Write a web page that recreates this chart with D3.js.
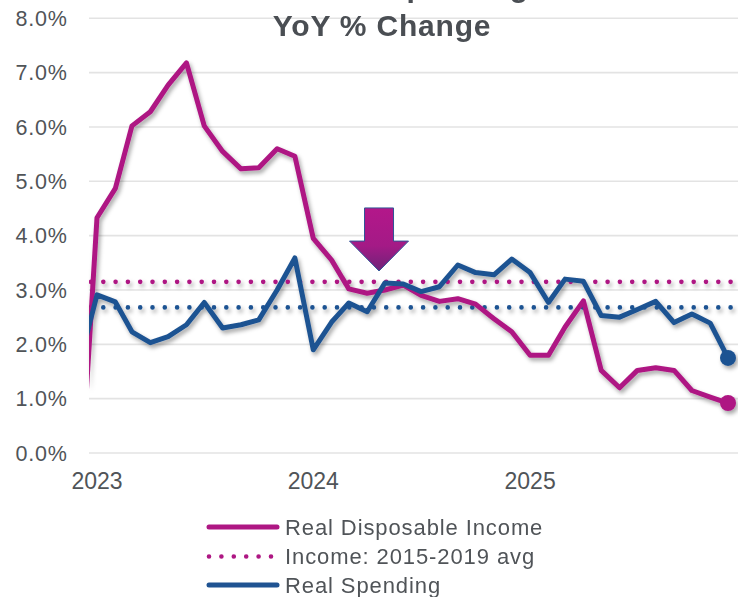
<!DOCTYPE html>
<html>
<head>
<meta charset="utf-8">
<script src="https://cdn.jsdelivr.net/npm/d3@7"></script>
<style>
  html, body { margin: 0; padding: 0; background: #ffffff; overflow: hidden; }
  svg { display: block; font-family: "Liberation Sans", Arial, sans-serif; }
</style>
</head>
<body>
<svg id="chart" width="738" height="597"></svg>
<script>
// Monthly observations, Dec 2022 through Dec 2025
const months = [
  "2022-12",
  "2023-01","2023-02","2023-03","2023-04","2023-05","2023-06",
  "2023-07","2023-08","2023-09","2023-10","2023-11","2023-12",
  "2024-01","2024-02","2024-03","2024-04","2024-05","2024-06",
  "2024-07","2024-08","2024-09","2024-10","2024-11","2024-12",
  "2025-01","2025-02","2025-03","2025-04","2025-05","2025-06",
  "2025-07","2025-08","2025-09","2025-10","2025-11","2025-12"
];

// Real disposable income, YoY %
const incomeYoY = [
  -1.2,
  4.33, 4.87, 6.02, 6.28, 6.77, 7.18, 6.02, 5.55, 5.23, 5.25, 5.60, 5.46,
  3.95, 3.55, 3.02, 2.94, 3.00, 3.09, 2.90, 2.79, 2.84, 2.74, 2.47, 2.23,
  1.80, 1.80, 2.32, 2.80, 1.52, 1.20, 1.52, 1.57, 1.52, 1.15, 1.03, 0.92
];

// Real spending, YoY %
const spendingYoY = [
  1.6,
  2.91, 2.78, 2.23, 2.03, 2.14, 2.36, 2.77, 2.30, 2.36, 2.45, 3.00, 3.59,
  1.90, 2.41, 2.76, 2.60, 3.13, 3.11, 2.97, 3.06, 3.46, 3.32, 3.28, 3.57,
  3.32, 2.77, 3.20, 3.16, 2.53, 2.50, 2.64, 2.79, 2.40, 2.56, 2.39, 1.75
];

// 2015-2019 averages
const incomeAvg = 3.15;
const spendingAvg = 2.68;

const yTicks = [0, 1, 2, 3, 4, 5, 6, 7, 8];
const yearTicks = ["2023-01", "2024-01", "2025-01"];
const yearLabels = ["2023", "2024", "2025"];

const titleLines = ["Income & Spending", "YoY % Change"];
const legendLabels = ["Real Disposable Income", "Income: 2015-2019 avg", "Real Spending"];

// Callout arrow, placed in data space
const arrowAt = "2024-04-21";
const arrowTop = 4.51, arrowNeck = 3.90, arrowTip = 3.35;

const MAGENTA = "#ae1783";
const BLUE = "#1f5392";
const GRID = "#e3e3e3";
const TEXT = "#505458";

const W = 738, H = 597;
const plot = { left: 89, right: 738, top: 18.3, bottom: 453 };

const parse = d3.timeParse("%Y-%m");
const parseDay = d3.timeParse("%Y-%m-%d");
const dates = months.map(parse);

const x = d3.scaleTime()
  .domain([parse("2023-01"), parse("2025-12")])
  .range([97, 728]);
const y = d3.scaleLinear().domain([0, 8]).range([plot.bottom, plot.top]);

const svg = d3.select("#chart");
const defs = svg.append("defs");

defs.append("clipPath").attr("id", "plotClip")
  .append("rect")
  .attr("x", plot.left).attr("y", 0)
  .attr("width", plot.right - plot.left).attr("height", H);

const shadow = defs.append("filter").attr("id", "shadow")
  .attr("x", "-10%").attr("y", "-10%").attr("width", "130%").attr("height", "140%");
shadow.append("feDropShadow")
  .attr("dx", 2).attr("dy", 3).attr("stdDeviation", 2)
  .attr("flood-color", "#000").attr("flood-opacity", 0.35);

const grad = defs.append("linearGradient").attr("id", "arrowFill")
  .attr("x1", 0).attr("y1", 0).attr("x2", 0).attr("y2", 1);
grad.append("stop").attr("offset", "0%").attr("stop-color", "#b3178a");
grad.append("stop").attr("offset", "60%").attr("stop-color", "#a41a86");
grad.append("stop").attr("offset", "100%").attr("stop-color", "#6e2378");

// Horizontal gridlines
svg.append("g")
  .selectAll("line")
  .data(yTicks)
  .join("line")
  .attr("x1", plot.left).attr("x2", plot.right)
  .attr("y1", d => y(d)).attr("y2", d => y(d))
  .attr("stroke", GRID).attr("stroke-width", 1.6);

// Y axis labels
svg.append("g")
  .selectAll("text")
  .data(yTicks)
  .join("text")
  .attr("x", 67.8).attr("y", d => y(d))
  .attr("dy", "0.36em")
  .attr("text-anchor", "end")
  .attr("font-size", 21.5)
  .attr("letter-spacing", 0.8)
  .attr("fill", TEXT)
  .text(d => d3.format(".1f")(d) + "%");

// X axis year labels
svg.append("g")
  .selectAll("text")
  .data(yearTicks)
  .join("text")
  .attr("x", d => x(parse(d)))
  .attr("y", 489)
  .attr("text-anchor", "middle")
  .attr("font-size", 23)
  .attr("fill", TEXT)
  .text((d, i) => yearLabels[i]);

// Series: each mark is clipped to the plot, then the group casts one shadow
const series = svg.append("g").attr("filter", "url(#shadow)");

const avgLine = (v, color) => series.append("line")
  .attr("clip-path", "url(#plotClip)")
  .attr("x1", plot.left + 2).attr("x2", plot.right)
  .attr("y1", y(v)).attr("y2", y(v))
  .attr("stroke", color).attr("stroke-width", 4.6)
  .attr("stroke-linecap", "round")
  .attr("stroke-dasharray", "0 12.3");

avgLine(incomeAvg, MAGENTA);
avgLine(spendingAvg, BLUE);

const line = d3.line().x((d, i) => x(dates[i])).y(d => y(d));

series.append("path")
  .attr("clip-path", "url(#plotClip)")
  .attr("d", line(incomeYoY))
  .attr("fill", "none").attr("stroke", MAGENTA)
  .attr("stroke-width", 5).attr("stroke-linejoin", "round");

series.append("path")
  .attr("clip-path", "url(#plotClip)")
  .attr("d", line(spendingYoY))
  .attr("fill", "none").attr("stroke", BLUE)
  .attr("stroke-width", 5).attr("stroke-linejoin", "round");

// Latest-value markers
const last = dates.length - 1;
series.append("circle")
  .attr("cx", x(dates[last])).attr("cy", y(incomeYoY[last]))
  .attr("r", 8).attr("fill", MAGENTA);
series.append("circle")
  .attr("cx", x(dates[last])).attr("cy", y(spendingYoY[last]))
  .attr("r", 8).attr("fill", BLUE);

// Callout arrow
const ax = x(parseDay(arrowAt));
const shaftHalf = 14.5, headHalf = 29.5;
const arrowPts = [
  [ax - shaftHalf, y(arrowTop)],
  [ax + shaftHalf, y(arrowTop)],
  [ax + shaftHalf, y(arrowNeck)],
  [ax + headHalf, y(arrowNeck)],
  [ax, y(arrowTip)],
  [ax - headHalf, y(arrowNeck)],
  [ax - shaftHalf, y(arrowNeck)]
];
svg.append("polygon")
  .attr("points", arrowPts.map(p => p.join(",")).join(" "))
  .attr("fill", "url(#arrowFill)")
  .attr("stroke", "#2f5597").attr("stroke-width", 1);

// Title (first line runs off the top edge)
svg.append("g")
  .selectAll("text")
  .data(titleLines)
  .join("text")
  .attr("x", 382)
  .attr("y", (d, i) => i === 0 ? -3 : 36)
  .attr("text-anchor", "middle")
  .attr("font-size", 30)
  .attr("font-weight", "bold")
  .attr("letter-spacing", 0.8)
  .attr("fill", "#4a4e53")
  .text(d => d);

// Legend
const legend = svg.append("g");
const rowY = [527, 556.5, 585];
legendLabels.forEach((label, i) => {
  const g = legend.append("g");
  if (i === 1) {
    g.append("line")
      .attr("x1", 209).attr("x2", 275)
      .attr("y1", rowY[i]).attr("y2", rowY[i])
      .attr("stroke", MAGENTA).attr("stroke-width", 4.6)
      .attr("stroke-linecap", "round")
      .attr("stroke-dasharray", "0 12.4");
  } else {
    g.append("line")
      .attr("x1", 209).attr("x2", 277)
      .attr("y1", rowY[i]).attr("y2", rowY[i])
      .attr("stroke", i === 0 ? MAGENTA : BLUE).attr("stroke-width", 5)
      .attr("stroke-linecap", "round");
  }
  g.append("text")
    .attr("x", 285).attr("y", rowY[i])
    .attr("dy", "0.36em")
    .attr("font-size", 22)
    .attr("letter-spacing", 0.9)
    .attr("fill", TEXT)
    .text(label);
});
</script>
</body>
</html>
